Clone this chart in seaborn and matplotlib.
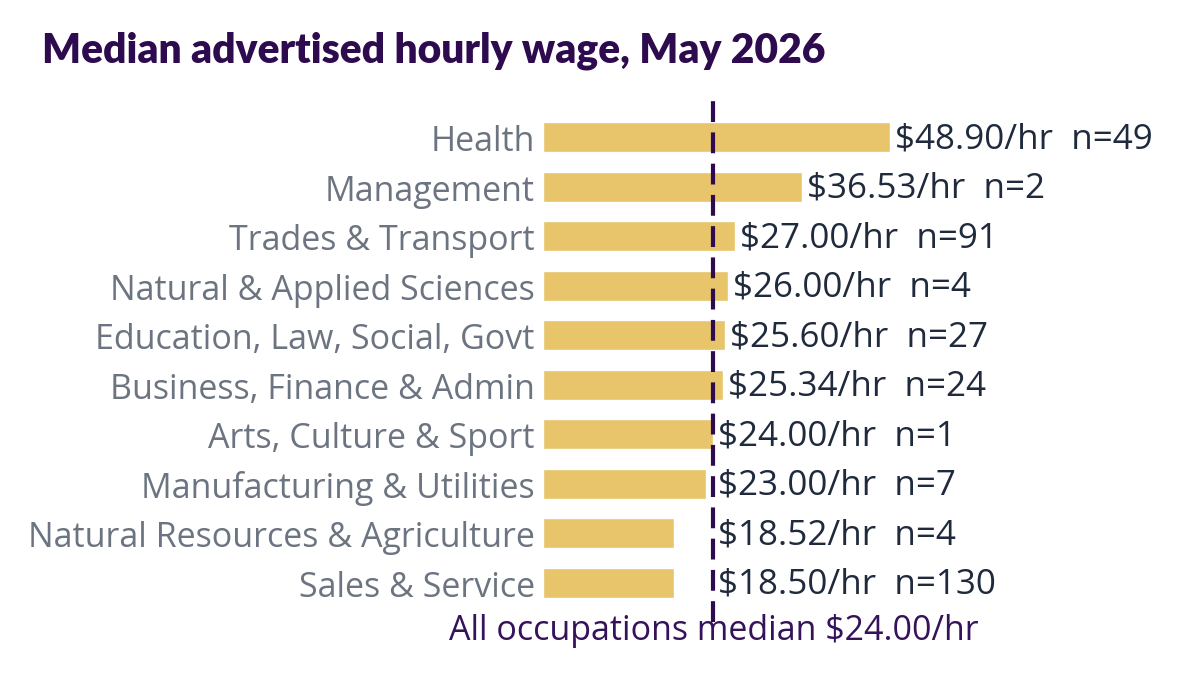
import seaborn as sns
import matplotlib.pyplot as plt
import matplotlib.transforms as mtransforms
import pandas as pd

# data
categories = ['Health', 'Management', 'Trades & Transport', 'Natural & Applied Sciences',
              'Education, Law, Social, Govt', 'Business, Finance & Admin',
              'Arts, Culture & Sport', 'Manufacturing & Utilities',
              'Natural Resources & Agriculture', 'Sales & Service']
wages = [48.90, 36.53, 27.00, 26.00, 25.60, 25.34, 24.00, 23.00, 18.52, 18.50]
counts = [49, 2, 91, 4, 27, 24, 1, 7, 4, 130]
median_all = 24.00

bar_color = '#E8C46A'
purple = '#2E0A4E'

sns.set_theme(style='white')
plt.rcParams['font.family'] = ['Open Sans', 'DejaVu Sans']

df = pd.DataFrame({'cat': categories, 'wage': wages, 'n': counts})

fig = plt.figure(figsize=(11.8, 6.99), dpi=100)
ax = fig.add_axes([543/1180, 1 - 622/699, 426/1180, 522/699])

sns.barplot(data=df, y='cat', x='wage', color=bar_color, saturation=1, width=0.6, ax=ax)
ax.set_xlim(0, 60)
ax.set_ylim(9.79, -0.75)

ax.axvline(median_all, color=purple, lw=3, linestyle=(0, (5, 2.5)))

# value labels, pushed right of the median line when bar is shorter
for i, (w, n) in enumerate(zip(wages, counts)):
    x = max(w, median_all) + 0.7
    ax.text(x, i + 0.04, f'${w:.2f}/hr  n={n}', va='center', ha='left',
            fontsize=25.2, color='#1F2A3C', clip_on=False)

ax.text(median_all, 9.97, f'All occupations median ${median_all:.2f}/hr', ha='center', va='center',
        fontsize=24.5, color='#35125A', clip_on=False)

ax.set_xlabel('')
ax.set_ylabel('')
ax.set_xticks([])
ax.tick_params(axis='y', length=0, pad=6, labelsize=24.5, labelcolor='#6B7480')
shift = mtransforms.ScaledTranslation(0, -5/100, fig.dpi_scale_trans)
for lbl in ax.get_yticklabels():
    lbl.set_va('center')
    lbl.set_transform(lbl.get_transform() + shift)
sns.despine(ax=ax, left=True, bottom=True)

fig.text(42/1180, 1 - 51/699, 'Median advertised hourly wage, May 2026', fontsize=29.3,
         fontweight='heavy', family=['Lato', 'DejaVu Sans'], color=purple, va='center', ha='left')

fig.savefig('out.png', dpi=100)
